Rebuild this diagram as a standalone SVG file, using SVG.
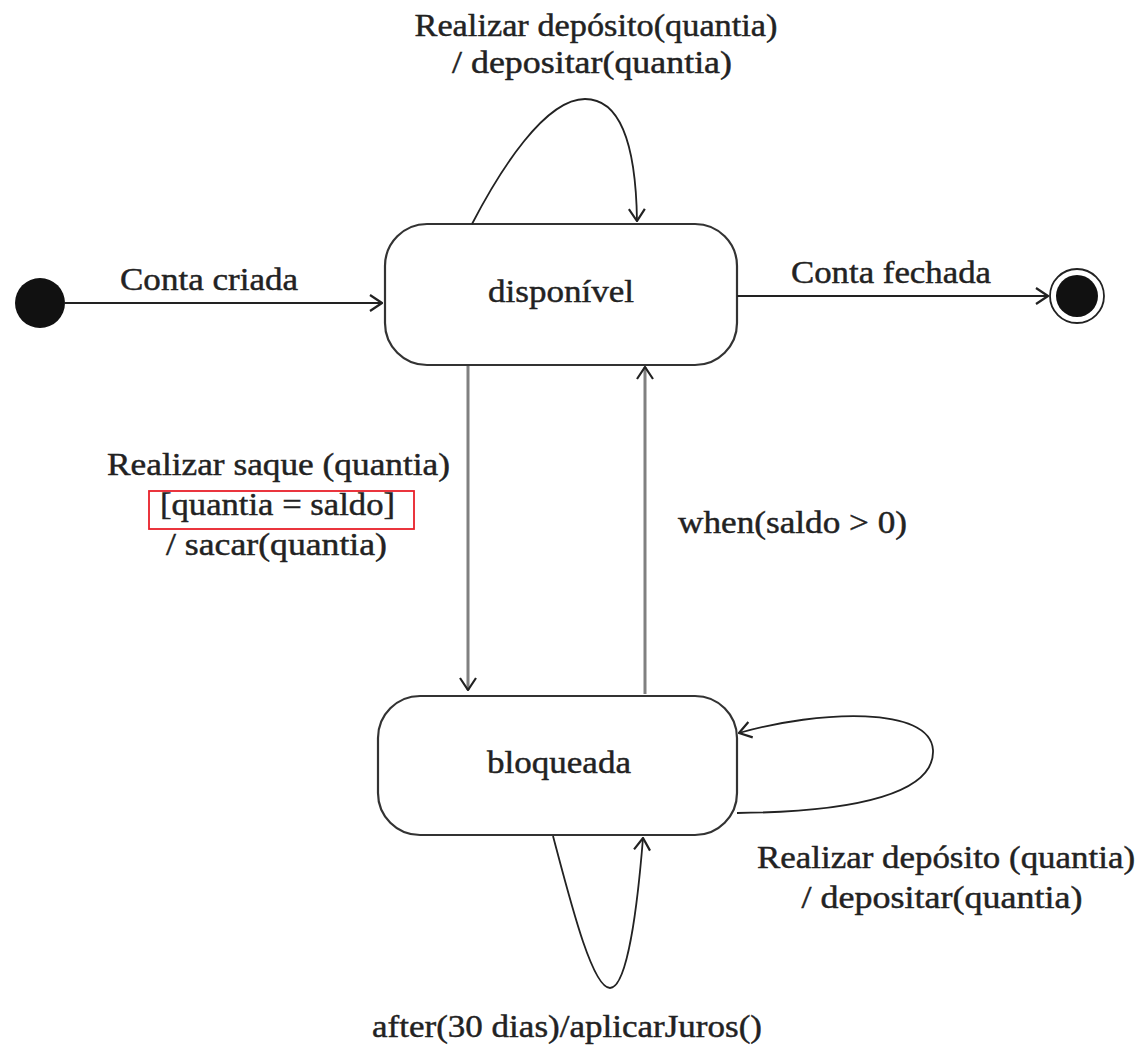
<svg xmlns="http://www.w3.org/2000/svg" width="1138" height="1046" viewBox="0 0 1138 1046">
  <style>
    text { font-family: "Liberation Serif", "Times New Roman", serif; font-size: 32px; fill: #222222; stroke: #222222; stroke-width: 0.45; }
    .state { fill: #ffffff; stroke: #333333; stroke-width: 2.2; }
    .edge { fill: none; stroke: #222222; stroke-width: 1.8; }
    .vedge { fill: none; stroke: #808080; stroke-width: 3; }
    .mid { text-anchor: middle; }
  </style>
  <defs>
    <marker id="arr" viewBox="0 0 14 18" refX="13" refY="9" markerWidth="14" markerHeight="18" markerUnits="userSpaceOnUse" orient="auto">
      <path d="M1,1 L13,9 L1,17" fill="none" stroke="#222222" stroke-width="2.2"/>
    </marker>
  </defs>
  <rect width="1138" height="1046" fill="#ffffff"/>

  <g id="initial">
    <circle cx="40" cy="303" r="25" fill="#111111"/>
  </g>
  <g id="final">
    <circle cx="1077" cy="296" r="27" fill="#ffffff" stroke="#222222" stroke-width="1.8"/>
    <circle cx="1077" cy="296" r="21" fill="#111111"/>
  </g>
  <g id="disponivel">
    <rect class="state" x="385" y="224" width="352" height="141" rx="42" ry="42"/>
    <text class="mid" x="561" y="302" textLength="146" lengthAdjust="spacingAndGlyphs">disponível</text>
  </g>
  <g id="bloqueada">
    <rect class="state" x="378" y="696" width="359" height="139" rx="42" ry="42"/>
    <text class="mid" x="559" y="773" textLength="144" lengthAdjust="spacingAndGlyphs">bloqueada</text>
  </g>

  <g id="connectors">
    <line class="edge" x1="65" y1="303" x2="382" y2="303" marker-end="url(#arr)"/>
    <line class="edge" x1="737" y1="296" x2="1048" y2="296" marker-end="url(#arr)"/>
    <path class="edge" d="M472,224 C500,170 545,99 585,99 C622,99 636,150 637,221" marker-end="url(#arr)"/>
    <line class="vedge" x1="468" y1="366" x2="468" y2="690" marker-end="url(#arr)"/>
    <line class="vedge" x1="645" y1="694" x2="645" y2="367" marker-end="url(#arr)"/>
    <path class="edge" d="M737,813 C860,812 935,792 933,750 C930,706 820,710 739,733" marker-end="url(#arr)"/>
    <path class="edge" d="M553,836 C570,900 592,988 610,988 C628,988 638,900 643,838" marker-end="url(#arr)"/>
  </g>

  <g id="labels">
    <text class="mid" x="596" y="36" textLength="363" lengthAdjust="spacingAndGlyphs">Realizar depósito(quantia)</text>
    <text class="mid" x="592" y="73" textLength="280" lengthAdjust="spacingAndGlyphs">/ depositar(quantia)</text>
    <text x="120" y="290" textLength="178" lengthAdjust="spacingAndGlyphs">Conta criada</text>
    <text x="791" y="283" textLength="200" lengthAdjust="spacingAndGlyphs">Conta fechada</text>
    <text x="107" y="475" textLength="343" lengthAdjust="spacingAndGlyphs">Realizar saque (quantia)</text>
    <rect x="149" y="491" width="265" height="38" fill="none" stroke="#e8202a" stroke-width="1.8"/>
    <text x="160" y="515" textLength="235" lengthAdjust="spacingAndGlyphs">[quantia = saldo]</text>
    <text x="166" y="555" textLength="221" lengthAdjust="spacingAndGlyphs">/ sacar(quantia)</text>
    <text x="678" y="533" textLength="229" lengthAdjust="spacingAndGlyphs">when(saldo &gt; 0)</text>
    <text x="757" y="868" textLength="378" lengthAdjust="spacingAndGlyphs">Realizar depósito (quantia)</text>
    <text class="mid" x="942" y="908" textLength="281" lengthAdjust="spacingAndGlyphs">/ depositar(quantia)</text>
    <text class="mid" x="567" y="1037" textLength="390" lengthAdjust="spacingAndGlyphs">after(30 dias)/aplicarJuros()</text>
  </g>
</svg>
